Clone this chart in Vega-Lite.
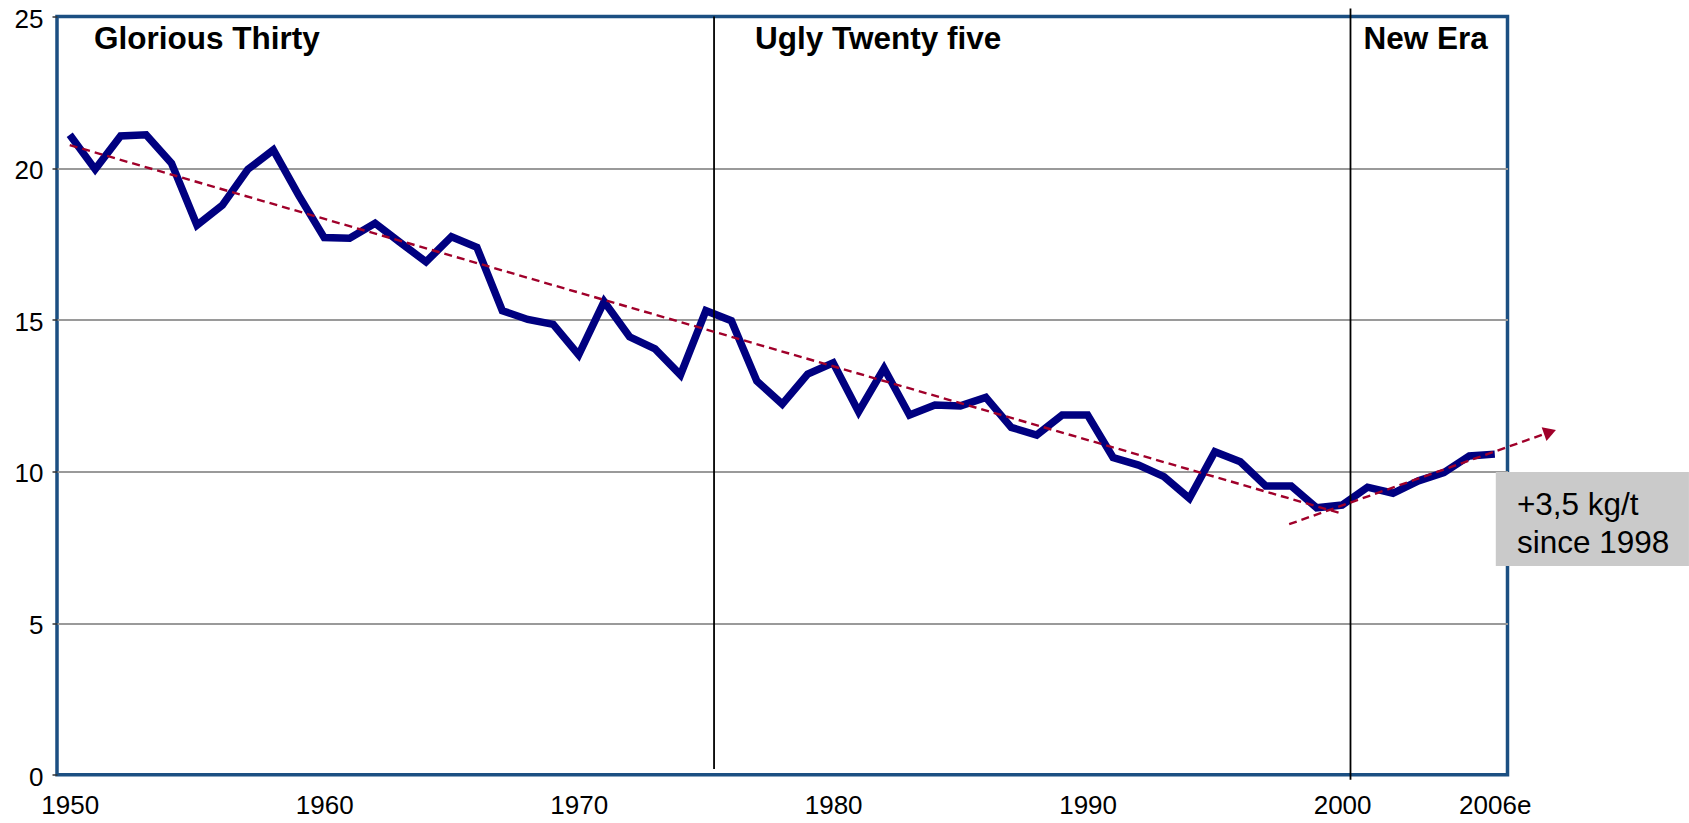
{
  "$schema": "https://vega.github.io/schema/vega-lite/v6.json",
  "width": 1450.5,
  "height": 758.2,
  "autosize": {"type": "none"},
  "padding": {"left": 57, "top": 16.5, "right": 181.5, "bottom": 48.3},
  "background": "white",
  "config": {
    "view": {"stroke": "#1B4F82", "strokeWidth": 3.5},
    "font": "Liberation Sans"
  },
  "datasets": {
    "series": [
      {"year": 1950, "value": 21.1}, {"year": 1951, "value": 19.96}, {"year": 1952, "value": 21.06},
      {"year": 1953, "value": 21.1}, {"year": 1954, "value": 20.16}, {"year": 1955, "value": 18.12},
      {"year": 1956, "value": 18.78}, {"year": 1957, "value": 19.96}, {"year": 1958, "value": 20.6},
      {"year": 1959, "value": 19.1}, {"year": 1960, "value": 17.71}, {"year": 1961, "value": 17.69},
      {"year": 1962, "value": 18.18}, {"year": 1963, "value": 17.54}, {"year": 1964, "value": 16.91},
      {"year": 1965, "value": 17.74}, {"year": 1966, "value": 17.39}, {"year": 1967, "value": 15.3},
      {"year": 1968, "value": 15.01}, {"year": 1969, "value": 14.85}, {"year": 1970, "value": 13.84},
      {"year": 1971, "value": 15.6}, {"year": 1972, "value": 14.44}, {"year": 1973, "value": 14.04},
      {"year": 1974, "value": 13.18}, {"year": 1975, "value": 15.3}, {"year": 1976, "value": 14.97},
      {"year": 1977, "value": 12.98}, {"year": 1978, "value": 12.22}, {"year": 1979, "value": 13.21},
      {"year": 1980, "value": 13.58}, {"year": 1981, "value": 11.97}, {"year": 1982, "value": 13.4},
      {"year": 1983, "value": 11.86}, {"year": 1984, "value": 12.19}, {"year": 1985, "value": 12.16},
      {"year": 1986, "value": 12.44}, {"year": 1987, "value": 11.45}, {"year": 1988, "value": 11.2},
      {"year": 1989, "value": 11.86}, {"year": 1990, "value": 11.86}, {"year": 1991, "value": 10.46},
      {"year": 1992, "value": 10.21}, {"year": 1993, "value": 9.83}, {"year": 1994, "value": 9.11},
      {"year": 1995, "value": 10.65}, {"year": 1996, "value": 10.32}, {"year": 1997, "value": 9.52},
      {"year": 1998, "value": 9.52}, {"year": 1999, "value": 8.8}, {"year": 2000, "value": 8.89},
      {"year": 2001, "value": 9.48}, {"year": 2002, "value": 9.28}, {"year": 2003, "value": 9.69},
      {"year": 2004, "value": 9.96}, {"year": 2005, "value": 10.51}, {"year": 2006, "value": 10.57}
    ],
    "trend": [
      {"seg": "decline", "year": 1950, "value": 20.76},
      {"seg": "decline", "year": 1999.9, "value": 8.63},
      {"seg": "rise", "year": 1997.92, "value": 8.26},
      {"seg": "rise", "year": 2008.17, "value": 11.3}
    ],
    "arrowhead": [
      {"year": 2008.17, "value": 11.3}
    ],
    "dividers": [
      {"year": 1975.32, "top": 25.0, "bottom": 0.19},
      {"year": 2000.33, "top": 25.26, "bottom": -0.17}
    ],
    "periods": [
      {"period": "Glorious Thirty", "year": 1950.95},
      {"period": "Ugly Twenty five", "year": 1976.93},
      {"period": "New Era", "year": 2000.84}
    ]
  },
  "layer": [
    {
      "data": {"name": "series"},
      "mark": {"type": "line", "color": "#000080", "strokeWidth": 7.5},
      "encoding": {
        "x": {
          "field": "year", "type": "quantitative",
          "scale": {"domain": [1949.5, 2006.5], "nice": false, "zero": false},
          "axis": {
            "values": [1950, 1960, 1970, 1980, 1990, 2000, 2006],
            "labelExpr": "datum.value == 2006 ? '2006e' : '' + datum.value",
            "ticks": false, "tickSize": 0, "domain": false, "grid": false, "title": null,
            "labelFont": "Liberation Sans", "labelFontSize": 26, "labelColor": "#000000",
            "labelBaseline": "alphabetic", "labelPadding": 38.5,
            "labelFlush": false, "labelOverlap": false
          }
        },
        "y": {
          "field": "value", "type": "quantitative",
          "scale": {"domain": [0, 25], "nice": false, "zero": true},
          "axis": {
            "values": [0, 5, 10, 15, 20, 25],
            "grid": true, "gridColor": "#9A9A9A", "gridWidth": 1.8,
            "gridOpacity": {"condition": {"test": "datum.value === 0 || datum.value === 25", "value": 0}, "value": 1},
            "domain": false, "ticks": true, "tickSize": 5, "tickColor": "#333333", "tickWidth": 1.5,
            "labelFont": "Liberation Sans", "labelFontSize": 26, "labelColor": "#000000",
            "labelPadding": 9, "labelOffset": 2.5, "title": null, "labelFlush": false
          }
        }
      }
    },
    {
      "data": {"name": "dividers"},
      "mark": {"type": "rule", "color": "#000000", "strokeWidth": 1.8},
      "encoding": {
        "x": {"field": "year", "type": "quantitative"},
        "y": {"field": "top", "type": "quantitative"},
        "y2": {"field": "bottom"}
      }
    },
    {
      "data": {"name": "trend"},
      "mark": {"type": "line", "color": "#A0002A", "strokeWidth": 2.4, "strokeDash": [8, 5]},
      "encoding": {
        "x": {"field": "year", "type": "quantitative"},
        "y": {"field": "value", "type": "quantitative"},
        "detail": {"field": "seg"}
      }
    },
    {
      "data": {"name": "arrowhead"},
      "mark": {"type": "point", "shape": "triangle-right", "angle": -19.4, "filled": true, "size": 210, "color": "#A0002A", "opacity": 1},
      "encoding": {
        "x": {"field": "year", "type": "quantitative"},
        "y": {"field": "value", "type": "quantitative"}
      }
    },
    {
      "data": {"values": [{}]},
      "mark": {"type": "rect", "color": "#CACACA"},
      "encoding": {
        "x": {"datum": 2006.04, "type": "quantitative"},
        "x2": {"datum": 2013.63},
        "y": {"datum": 9.98, "type": "quantitative"},
        "y2": {"datum": 6.88}
      }
    },
    {
      "data": {"values": [{}]},
      "mark": {"type": "text", "align": "left", "baseline": "alphabetic", "fontSize": 31.5, "lineHeight": 38, "font": "Liberation Sans", "color": "#000000"},
      "encoding": {
        "x": {"datum": 2006.87, "type": "quantitative"},
        "y": {"datum": 8.55, "type": "quantitative"},
        "text": {"value": ["+3,5 kg/t", "since 1998"]}
      }
    },
    {
      "data": {"name": "periods"},
      "mark": {"type": "text", "align": "left", "baseline": "alphabetic", "fontSize": 31.5, "fontWeight": "bold", "font": "Liberation Sans", "color": "#000000"},
      "encoding": {
        "x": {"field": "year", "type": "quantitative"},
        "y": {"datum": 23.93, "type": "quantitative"},
        "text": {"field": "period"}
      }
    }
  ]
}
